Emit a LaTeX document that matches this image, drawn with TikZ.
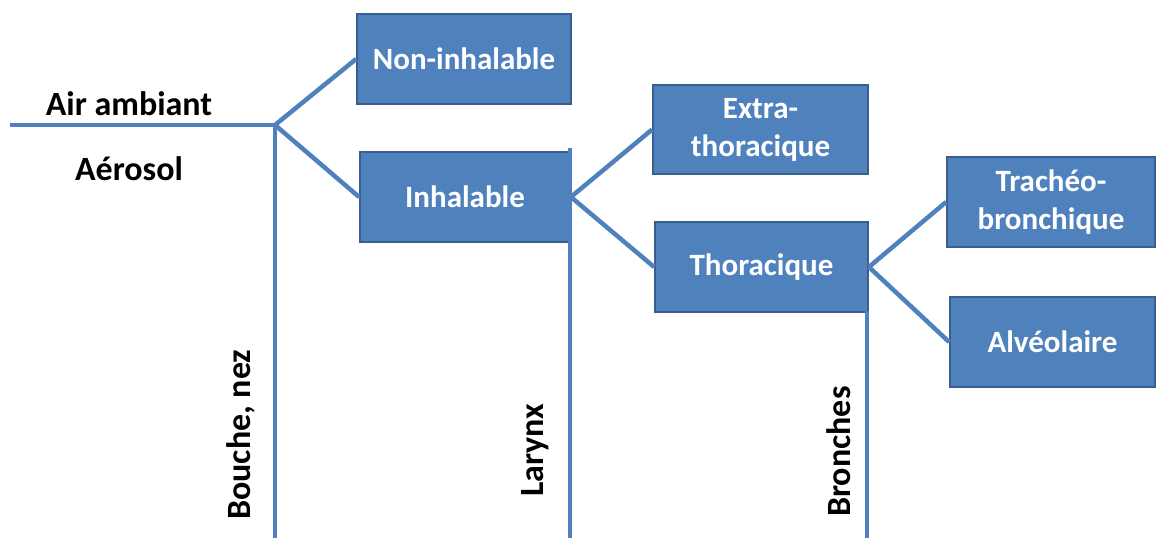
\documentclass[tikz,border=0pt]{standalone}
\usepackage{fontspec}
\setmainfont{Carlito}
\definecolor{lineblue}{HTML}{4F81BD}
\definecolor{boxfill}{HTML}{4F81BD}
\definecolor{boxedge}{HTML}{3A5F8E}
\begin{document}
\begin{tikzpicture}[x=1pt,y=-1pt,
  box/.style={draw=boxedge, line width=1.8pt, fill=boxfill, text=white,
    font=\fontsize{31}{38}\selectfont\bfseries, align=center, inner sep=0pt,
    anchor=center},
  conn/.style={draw=lineblue, line width=4.5pt},
  lbl/.style={font=\fontsize{34}{40}\selectfont\bfseries, text=black, inner sep=0pt},
  vlbl/.style={lbl, rotate=90, anchor=base west}]
\useasboundingbox (0,0) rectangle (1157,538);
% boxes
\node[box, minimum width=214pt, minimum height=90pt] (noninh) at (464,59) {Non-inhalable};
\node[box, minimum width=210pt, minimum height=90pt] (inh) at (465,197) {Inhalable};
\node[box, minimum width=215pt, minimum height=89pt] (extra) at (760.5,129.5) {Extra-\\thoracique};
\node[box, minimum width=213pt, minimum height=90pt] (thor) at (761.5,267) {Thoracique};
\node[box, minimum width=208pt, minimum height=90pt] (trach) at (1051,202) {Trachéo-\\bronchique};
\node[box, minimum width=205pt, minimum height=90pt] (alv) at (1052.5,342) {Alvéolaire};
% coordinates
\coordinate (start) at (10,125);
\coordinate (j1) at (275,125);
\coordinate (b1) at (275,540);
\coordinate (t2) at (570,148);
\coordinate (b2) at (570,540);
\coordinate (t3) at (867,311);
\coordinate (b3) at (867,540);
% connectors
\draw[conn] (start) -- (j1);
\draw[conn] (j1) -- (b1);
\draw[conn] (j1) -- (noninh.west);
\draw[conn] (j1) -- (inh.west);
\draw[conn] (t2) -- (b2);
\draw[conn] (inh.east) -- (extra.west);
\draw[conn] (inh.east) -- (thor.west);
\draw[conn] (t3) -- (b3);
\draw[conn] (thor.east) -- (trach.west);
\draw[conn] (thor.east) -- (alv.west);
% labels
\node[lbl, anchor=base] (air) at (129,115) {Air ambiant};
\node[lbl, anchor=base] (aero) at (129,180) {Aérosol};
\node[vlbl] (bouche) at (250,520) {Bouche, nez};
\node[vlbl] (larynx) at (543,497) {Larynx};
\node[vlbl] (bronches) at (850,517) {Bronches};
\end{tikzpicture}
\end{document}
